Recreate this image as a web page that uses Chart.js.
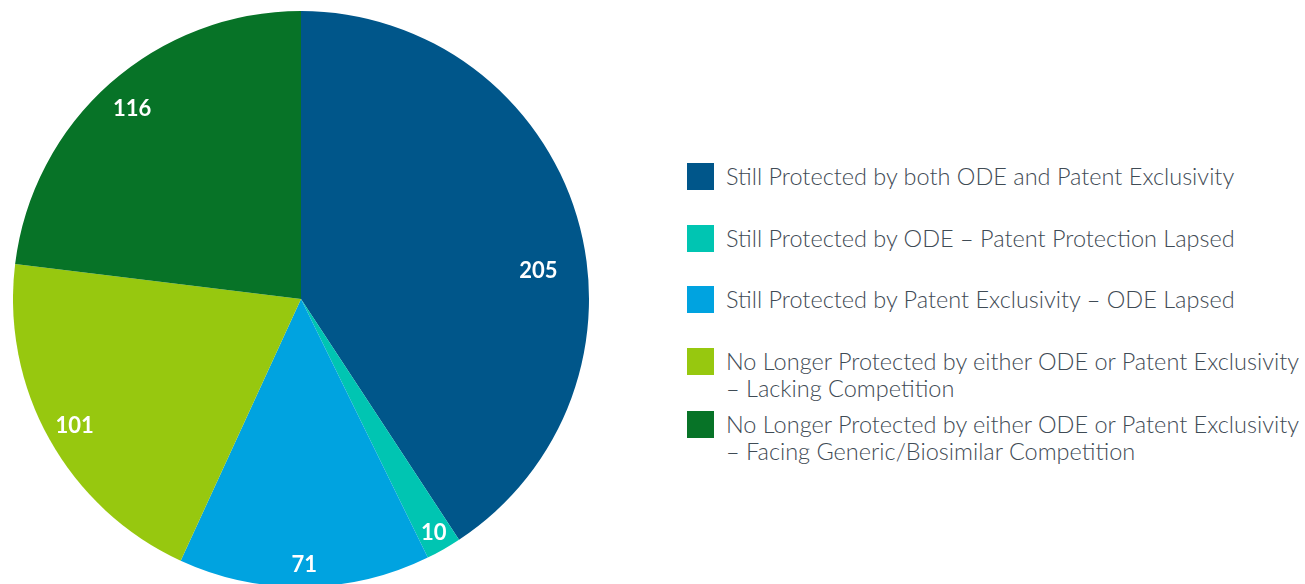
<!DOCTYPE html>
<html>
<head>
<meta charset="utf-8">
<script src="https://cdn.jsdelivr.net/npm/chart.js@4"></script>
<style>
  html, body { margin: 0; padding: 0; background: #fff; overflow: hidden; width: 1305px; height: 584px; }
  #pieBox { position: absolute; left: 13px; top: 11px; width: 576px; height: 576px; }
  #legend { position: absolute; left: 687px; top: 160px; font-family: Lato, sans-serif; font-weight: 300; font-size: 23.5px; color: #3f4b55; }
  .row { position: absolute; left: 0; white-space: nowrap; }
  .box { position: absolute; left: 0; width: 27px; height: 27px; }
  .txt { position: absolute; left: 39px; line-height: 26.5px; top: 0px; }
</style>
</head>
<body>
<div id="pieBox"><canvas id="pie"></canvas></div>
<div id="legend"></div>
<script>
const categories = [
  ['Still Protected by both ODE and Patent Exclusivity'],
  ['Still Protected by ODE \u2013 Patent Protection Lapsed'],
  ['Still Protected by Patent Exclusivity \u2013 ODE Lapsed'],
  ['No Longer Protected by either ODE or Patent Exclusivity', '\u2013 Lacking Competition'],
  ['No Longer Protected by either ODE or Patent Exclusivity', '\u2013 Facing Generic/Biosimilar Competition']
];
const counts = [205, 10, 71, 101, 116];
const colors = ['#00568a', '#00c5b2', '#00a3e0', '#97c80f', '#077327'];

// label placement: fraction of radius and angle tweak (degrees)
const labelSpots = [
  { r: 0.83, turn: 9.7 },
  { r: 0.93, turn: 0 },
  { r: 0.92, turn: 0 },
  { r: 0.90, turn: 0 },
  { r: 0.885, turn: 0 }
];

const sliceLabels = {
  id: 'sliceLabels',
  afterDatasetsDraw(chart) {
    const ctx = chart.ctx;
    const meta = chart.getDatasetMeta(0);
    ctx.save();
    ctx.fillStyle = '#fff';
    ctx.font = 'bold 22px Lato, sans-serif';
    ctx.textAlign = 'center';
    ctx.textBaseline = 'middle';
    meta.data.forEach((arc, i) => {
      const mid = (arc.startAngle + arc.endAngle) / 2 + labelSpots[i].turn * Math.PI / 180;
      const rr = arc.outerRadius * labelSpots[i].r;
      ctx.fillText(String(counts[i]), arc.x + Math.cos(mid) * rr, arc.y + Math.sin(mid) * rr + 1);
    });
    ctx.restore();
  }
};

new Chart(document.getElementById('pie'), {
  type: 'pie',
  data: {
    labels: categories.map(c => c.join(' ')),
    datasets: [{
      data: counts,
      backgroundColor: colors,
      borderWidth: 0
    }]
  },
  options: {
    responsive: true,
    maintainAspectRatio: false,
    animation: false,
    layout: { padding: 0 },
    plugins: {
      legend: { display: false },
      tooltip: { enabled: false }
    }
  },
  plugins: [sliceLabels]
});

// legend built from the same arrays
const rowTops = [3, 65, 126, 188, 251];
const legend = document.getElementById('legend');
categories.forEach((lines, i) => {
  const row = document.createElement('div');
  row.className = 'row';
  row.style.top = rowTops[i] + 'px';
  const box = document.createElement('div');
  box.className = 'box';
  box.style.background = colors[i];
  const txt = document.createElement('div');
  txt.className = 'txt';
  txt.innerHTML = lines.join('<br>');
  row.appendChild(box);
  row.appendChild(txt);
  legend.appendChild(row);
});
</script>
</body>
</html>
